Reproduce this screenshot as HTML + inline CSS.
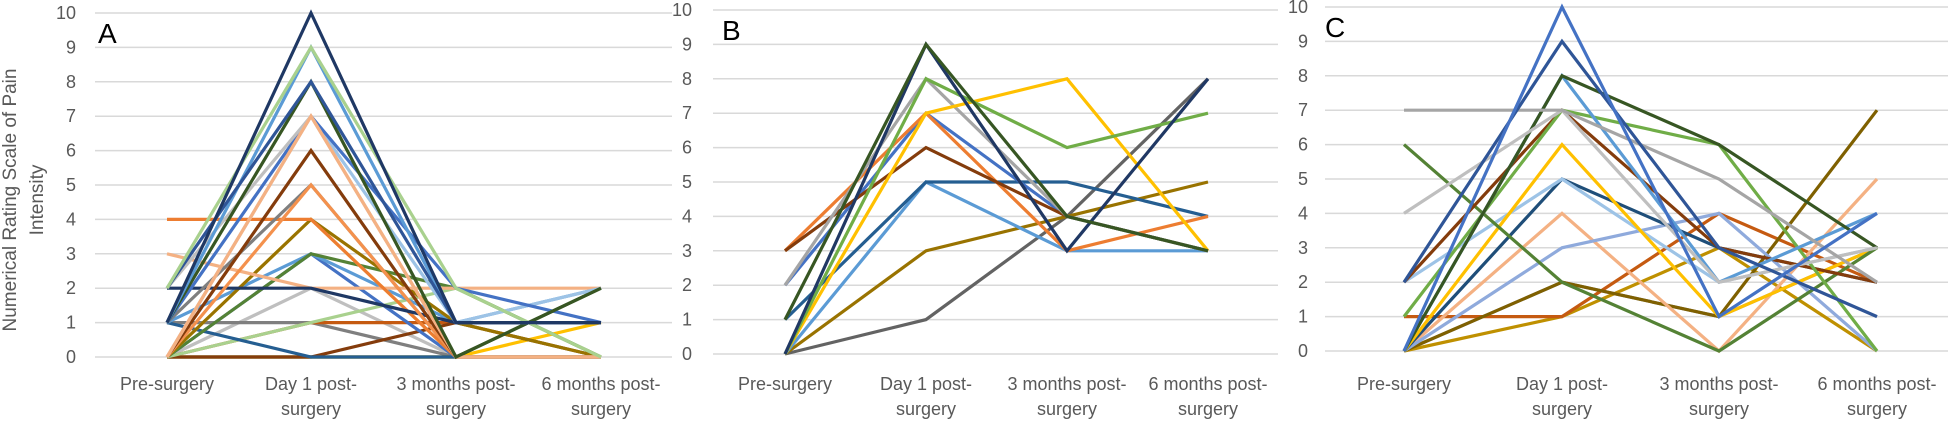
<!DOCTYPE html>
<html><head><meta charset="utf-8"><style>
html,body{margin:0;padding:0;background:#fff;}
svg{display:block;font-family:"Liberation Sans",sans-serif;}
</style></head><body>
<svg id="s" width="1948" height="422" viewBox="0 0 1948 422" xmlns="http://www.w3.org/2000/svg">
<text transform="translate(16,200) rotate(-90)" text-anchor="middle" font-size="19" fill="#595959">Numerical Rating Scale of Pain</text>
<text transform="translate(43,200) rotate(-90)" text-anchor="middle" font-size="19" fill="#595959">Intensity</text>
<text x="98" y="43" font-size="28" fill="#000">A</text>
<text x="722" y="40" font-size="28" fill="#000">B</text>
<text x="1325" y="37" font-size="28" fill="#000">C</text>
</svg>
<script>
var s=document.getElementById('s'),NS='http://www.w3.org/2000/svg';
function el(t,a,txt){var e=document.createElementNS(NS,t);for(var k in a)e.setAttribute(k,a[k]);if(txt!=null)e.textContent=txt;s.appendChild(e);return e;}
var P=[
{y0:357,y10:13,gx0:95,gx1:672,lx:76,cats:[167,311,456,601],data:[
['#bfbfbf',[0,2,0,0]],['#7f7f7f',[1,1,0,0]],['#ffc000',[0,0,0,1]],['#375623',[0,0,0,2]],['#c55a11',[0,1,1,1]],['#843c0c',[0,0,1,0]],['#a9d18e',[0,1,2,0]],
['#255e91',[1,0,0,0]],['#4472c4',[0,3,0,0]],['#5b9bd5',[1,3,1,2]],['#548235',[0,3,2,0]],['#ffd966',[0,4,0,0]],['#997300',[0,4,1,0]],
['#f4b183',[3,2,2,2]],['#ed7d31',[4,4,0,0]],['#1f3864',[2,2,1,1]],['#7f7f7f',[1,5,0,0]],['#f4914d',[0,5,0,0]],['#843c0c',[0,6,0,0]],
['#9dc3e6',[0,7,1,2]],['#4472c4',[1,7,2,1]],['#bfbfbf',[2,7,0,0]],['#f8cbad',[0,7,0,0]],['#f4b183',[0,7,0,0]],['#375623',[1,8,0,2]],['#5b9bd5',[1,9,1,1]],
['#2f5597',[2,8,1,1]],['#a9d18e',[2,9,2,0]],['#1f3864',[1,10,1,1]]]},
{y0:354,y10:10,gx0:713,gx1:1278,lx:692,cats:[785,926,1067,1208],data:[
['#636363',[0,1,4,8]],['#997300',[0,3,4,5]],['#5b9bd5',[0,5,3,3]],['#255e91',[1,5,5,4]],['#4472c4',[2,7,4,3]],['#ed7d31',[3,7,3,4]],
['#843c0c',[3,6,4,3]],['#a5a5a5',[2,8,4,3]],['#ffc000',[0,7,8,3]],['#70ad47',[0,8,6,7]],['#203864',[0,9,3,8]],['#375623',[1,9,4,3]]]},
{y0:351,y10:7,gx0:1325,gx1:1948,lx:1308,cats:[1404,1562,1719,1877],data:[
['#7f7f7f',[0,2,1,3]],['#bf9000',[0,1,3,0]],['#c55a11',[1,1,4,2]],['#7f6000',[0,2,1,7]],['#f4b183',[0,4,0,5]],['#8faadc',[0,3,4,0]],
['#1f4e79',[0,5,3,2]],['#9dc3e6',[2,5,2,3]],['#ffc000',[0,6,1,3]],['#548235',[6,2,0,3]],['#843c0c',[2,7,3,2]],['#70ad47',[1,7,6,0]],
['#5b9bd5',[0,8,2,4]],['#375623',[0,8,6,3]],['#bfbfbf',[4,7,2,3]],['#a5a5a5',[7,7,5,2]],['#2f5597',[2,9,3,1]],['#4472c4',[0,10,1,4]]]}
];
var labels=[['Pre-surgery'],['Day 1 post-','surgery'],['3 months post-','surgery'],['6 months post-','surgery']];
P.forEach(function(p){
 var u=(p.y0-p.y10)/10;
 for(var i=0;i<=10;i++){var y=p.y0-i*u;
  el('line',{x1:p.gx0,x2:p.gx1,y1:y,y2:y,stroke:'#d9d9d9','stroke-width':1.5});
  el('text',{x:p.lx,y:y+6,'text-anchor':'end','font-size':18,fill:'#595959'},String(i));}
 p.cats.forEach(function(cx,j){labels[j].forEach(function(t,k){
  el('text',{x:cx,y:390+k*25,'text-anchor':'middle','font-size':18,fill:'#595959'},t);});});
 p.data.forEach(function(d){
  var pts=d[1].map(function(v,j){return p.cats[j]+','+(p.y0-v*u);}).join(' ');
  el('polyline',{points:pts,fill:'none',stroke:d[0],'stroke-width':3.2,'stroke-linejoin':'miter'});});
});
</script>
</body></html>
